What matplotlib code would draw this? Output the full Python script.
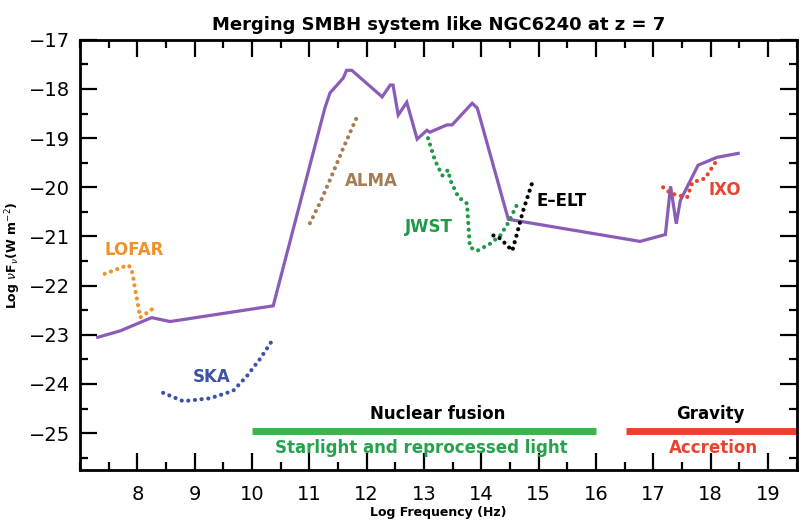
import numpy as np
import matplotlib.pyplot as plt
from matplotlib.ticker import MultipleLocator

# SED of the merging system (purple curve)
sed_x = [7.31, 7.70, 8.25, 8.57, 10.37, 11.27, 11.36, 11.59, 11.65, 11.74, 12.27,
         12.41, 12.46, 12.55, 12.70, 12.88, 13.05, 13.10, 13.40, 13.49, 13.84, 13.93,
         14.47, 16.77, 17.21, 17.30, 17.40, 17.47, 17.78, 18.11, 18.48]
sed_y = [-23.05, -22.92, -22.65, -22.73, -22.41, -18.39, -18.08, -17.78, -17.62, -17.62, -18.16,
         -17.92, -17.92, -18.53, -18.27, -19.02, -18.84, -18.88, -18.73, -18.73, -18.29, -18.39,
         -20.65, -21.10, -20.96, -19.98, -20.74, -20.27, -19.55, -19.39, -19.31]

# instrument sensitivity curves
lofar_x = [7.43, 7.84, 7.90, 8.05, 8.27]
lofar_y = [-21.76, -21.58, -21.66, -22.65, -22.47]

alma_x = [11.01, 11.20, 11.41, 11.60, 11.83]
alma_y = [-20.73, -20.28, -19.71, -19.18, -18.57]

ska_x = [8.45, 8.80, 9.27, 9.67, 9.91, 10.14, 10.35]
ska_y = [-24.18, -24.35, -24.29, -24.14, -23.84, -23.49, -23.12]

jwst_x = [13.07, 13.19, 13.32, 13.42, 13.46, 13.60, 13.75, 13.80, 13.93, 14.15, 14.33, 14.47, 14.64]
jwst_y = [-19.00, -19.45, -19.76, -19.65, -19.86, -20.20, -20.33, -21.22, -21.29, -21.15, -20.98, -20.72, -20.31]

eelt_x = [14.21, 14.33, 14.54, 14.59, 14.73, 14.90]
eelt_y = [-20.98, -21.04, -21.29, -21.08, -20.47, -19.86]

ixo_x = [17.17, 17.30, 17.42, 17.59, 17.68, 17.90, 18.05, 18.11]
ixo_y = [-20.00, -20.12, -20.16, -20.20, -19.90, -19.82, -19.55, -19.45]

fig = plt.figure(figsize=(8.08, 5.24), dpi=100)
ax = fig.add_axes([0.099, 0.103, 0.887, 0.821])

purple = '#8a5cb8'
ax.plot(sed_x, sed_y, color=purple, lw=2.3, solid_joinstyle='miter')

dot = dict(lw=3.0, linestyle=(0, (0.01, 1.6)), dash_capstyle='round')
ax.plot(lofar_x, lofar_y, color='#f0922c', **dot)
ax.plot(alma_x, alma_y, color='#a67c52', **dot)
ax.plot(ska_x, ska_y, color='#3a52a8', **dot)
ax.plot(jwst_x, jwst_y, color='#1f9a48', **dot)
ax.plot(eelt_x, eelt_y, color='black', **dot)
ax.plot(ixo_x, ixo_y, color='#e8432f', **dot)

lab = dict(fontsize=12, fontweight='bold', ha='left', va='center')
ax.text(7.42, -21.28, 'LOFAR', color='#f0922c', **lab)
ax.text(11.62, -19.87, 'ALMA', color='#a67c52', **lab)
ax.text(8.97, -23.86, 'SKA', color='#3a52a8', **lab)
ax.text(12.67, -20.80, 'JWST', color='#1f9a48', **lab)
ax.text(14.97, -20.28, 'E\u2013ELT', color='black', **lab)
ax.text(17.97, -20.05, 'IXO', color='#e8432f', **lab)

# emission mechanism bands
ax.plot([10, 16], [-24.96, -24.96], color='#3cb44a', lw=5, solid_capstyle='butt')
ax.plot([16.52, 19.5], [-24.96, -24.96], color='#e8432f', lw=5, solid_capstyle='butt')
band = dict(fontsize=12, fontweight='bold', ha='center', va='center')
ax.text(13.23, -24.62, 'Nuclear fusion', color='black', **band)
ax.text(12.95, -25.31, 'Starlight and reprocessed light', color='#26a24d', **band)
ax.text(17.99, -24.62, 'Gravity', color='black', **band)
ax.text(18.05, -25.31, 'Accretion', color='#e8432f', **band)

ax.set_xlim(7, 19.5)
ax.set_ylim(-25.75, -17)
ax.xaxis.set_minor_locator(MultipleLocator(0.5))
ax.yaxis.set_major_locator(MultipleLocator(1))
ax.yaxis.set_minor_locator(MultipleLocator(0.5))
ax.set_xticks(np.arange(8, 20))
ax.tick_params(which='both', direction='in', top=True, right=True, width=1.6,
               labelsize=14)
ax.tick_params(axis='x', pad=11)
ax.tick_params(axis='y', pad=7)
ax.tick_params(which='major', length=12)
ax.tick_params(which='minor', length=6)
for s in ax.spines.values():
    s.set_linewidth(2)

ax.set_title('Merging SMBH system like NGC6240 at z = 7', fontsize=13,
             fontweight='bold', pad=7)
ax.set_xlabel('Log Frequency (Hz)', fontsize=9, fontweight='bold', labelpad=1)
ax.set_ylabel(r'Log $\nu$F$_\nu$(W m$^{-2}$)', fontsize=9, fontweight='bold', labelpad=4)

fig.savefig('out.png', dpi=100)
